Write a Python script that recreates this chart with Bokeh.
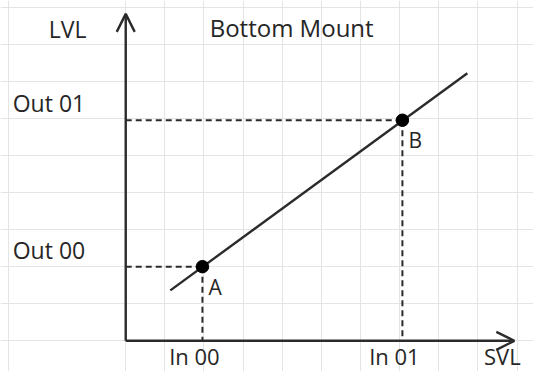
from bokeh.plotting import figure
from bokeh.models import Range1d, FixedTicker, Grid, Arrow, OpenHead
from bokeh.core.properties import value
from bokeh.embed import file_html
from bokeh.resources import INLINE

# ---- chart values (grid-cell units, origin at the axes corner) ----
title_text = "Bottom Mount"
x_axis_title = "SVL"
y_axis_title = "LVL"
point_names = ["A", "B"]
in_labels = ["In 00", "In 01"]
out_labels = ["Out 00", "Out 01"]
in_values = [1.96, 7.07]      # SVL inputs for A, B
out_values = [2.0, 5.95]      # LVL outputs for A, B
line_x = [1.14, 8.73]         # extent of the transfer line
line_y = [1.36, 7.22]
x_axis_end = 9.93
y_axis_end = 8.82
grid_cols = [-3] + list(range(0, 11))
grid_rows = list(range(0, 10))

INK = "#2b2b2b"
TXT = "#262626"
GRID = "#e4e4e4"
FONT = value("Open Sans")

p = figure(width=533, height=371, output_backend="svg", toolbar_location=None,
           x_axis_type=None, y_axis_type=None, min_border=0,
           x_range=Range1d(-3.2, 10.42), y_range=Range1d(-0.828, 9.18))
p.background_fill_color = "white"
p.border_fill_color = "white"
p.outline_line_color = None

p.add_layout(Grid(dimension=0, ticker=FixedTicker(ticks=grid_cols),
                  grid_line_color=GRID, grid_line_width=1))
p.add_layout(Grid(dimension=1, ticker=FixedTicker(ticks=grid_rows),
                  grid_line_color=GRID, grid_line_width=1))

# axes as arrows
p.add_layout(Arrow(end=OpenHead(size=18, line_width=2.4, line_color=INK),
                   x_start=0, y_start=0, x_end=0, y_end=y_axis_end,
                   line_width=2.4, line_color=INK))
p.add_layout(Arrow(end=OpenHead(size=18, line_width=2.4, line_color=INK),
                   x_start=0, y_start=0, x_end=x_axis_end, y_end=0,
                   line_width=2.4, line_color=INK))

# dashed guide lines
p.segment(x0=[0] * len(in_values), y0=out_values, x1=in_values, y1=out_values,
          line_color=INK, line_width=2, line_dash="6 4")
p.segment(x0=in_values, y0=out_values, x1=in_values, y1=[0] * len(in_values),
          line_color=INK, line_width=2, line_dash="6 4")

# transfer line and points
p.line(line_x, line_y, line_color=INK, line_width=2.4)
p.scatter(in_values, out_values, size=12.5, fill_color="black", line_color="black")

# texts
common = dict(text_font=FONT, text_color=TXT, text_baseline="middle")
p.text(x=in_values, y=[0] * len(in_values), text=in_labels, x_offset=-8, y_offset=15,
       text_align="center", text_font_size="22px", **common)
p.text(x=[0] * len(out_values), y=out_values, text=out_labels, x_offset=-113, y_offset=-17,
       text_align="left", text_font_size="23px", **common)
p.text(x=in_values, y=out_values, text=point_names, x_offset=6, y_offset=20,
       text_align="left", text_font_size="21px", **common)
p.text(x=[x_axis_end], y=[0], text=[x_axis_title], x_offset=-12, y_offset=15,
       text_align="center", text_font_size="22px", **common)
p.text(x=[0], y=[y_axis_end], text=[y_axis_title], x_offset=-58, y_offset=15,
       text_align="center", text_font_size="23px", **common)
p.text(x=[4.24], y=[y_axis_end], text=[title_text], y_offset=14,
       text_align="center", text_font_size="24px", **common)

open("out.html", "w").write(file_html(p, INLINE))
